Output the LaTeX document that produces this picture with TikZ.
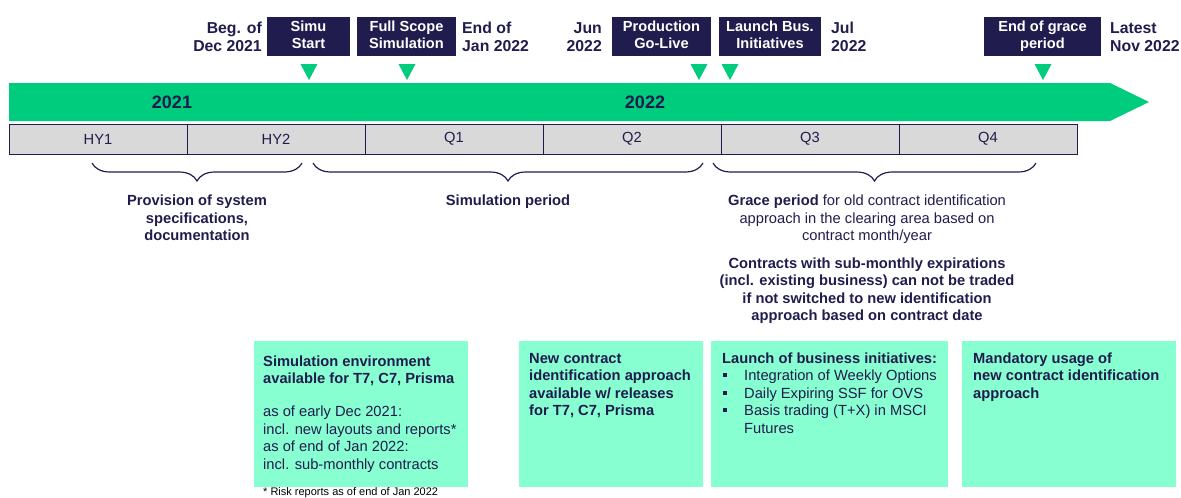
\documentclass[tikz,border=0pt]{standalone}
\usepackage{fontspec}
\setmainfont{Liberation Sans}
\usetikzlibrary{decorations.pathreplacing}
\definecolor{navy}{HTML}{201C4E}
\definecolor{bandgreen}{HTML}{00CC7E}
\definecolor{mint}{HTML}{88FFD1}
\definecolor{cellgray}{HTML}{D9D9D9}
\def\mainsize{\fontsize{14.7}{17.6}\selectfont}
\def\datesize{\fontsize{15.8}{18.5}\selectfont}
\def\marker(#1){\fill[bandgreen] (#1-8.5,64) -- (#1+8.5,64) -- (#1,80) -- cycle;}
\def\bul{\makebox[22pt][l]{\hspace{0.7pt}\rule[3.7pt]{4pt}{4pt}}}
\tikzset{
	milestone/.style={fill=navy, text=white, inner sep=0pt, minimum height=39pt, font=\bfseries\fontsize{14.6}{17.5}\selectfont},
	datelabel/.style={text=navy, inner sep=0pt, font=\bfseries\datesize},
	cell/.style={draw=navy, line width=1pt, fill=cellgray, text=navy, minimum width=178pt, minimum height=30pt, inner sep=0pt, font=\mainsize},
	infobox/.style={fill=mint, inner sep=0pt, minimum height=146pt, anchor=north west},
	boxtext/.style={text=navy, inner sep=0pt, anchor=base west, font=\mainsize},
	period/.style={draw=navy, line width=1.2pt, decorate, decoration={brace, mirror, amplitude=18pt}},
	note/.style={text=navy, inner sep=0pt, anchor=base, font=\bfseries\mainsize},
}

\begin{document}
\begin{tikzpicture}[x=1pt, y=-1pt]
		%%%%% START %%%%%
		\useasboundingbox (0,0) rectangle (1181,498);
		
		% timeline band
		\fill[bandgreen] (9,83) -- (1110,83) -- (1149,102) -- (1110,121) -- (9,121) -- cycle;
		\node[text=navy, font=\bfseries\fontsize{18}{20}\selectfont] (y2021) at (172,102) {2021};
		\node[text=navy, font=\bfseries\fontsize{18}{20}\selectfont] (y2022) at (645,102) {2022};
		
		% halves and quarters
		\node[cell] (hy1) at (98,139) {HY1};
		\node[cell] (hy2) at (276,139) {HY2};
		\node[cell] (q1) at (454,139) {Q1};
		\node[cell] (q2) at (632,139) {Q2};
		\node[cell] (q3) at (810,139) {Q3};
		\node[cell] (q4) at (988,139) {Q4};
		
		% milestones
		\node[milestone, minimum width=83pt] (simu) at (308.5,36.5) {\begin{tabular}{@{}c@{}}Simu\\Start\end{tabular}};
		\node[milestone, minimum width=99pt] (fullscope) at (406.5,36.5) {\begin{tabular}{@{}c@{}}Full Scope\\Simulation\end{tabular}};
		\node[milestone, minimum width=99pt] (golive) at (661.5,36.5) {\begin{tabular}{@{}c@{}}Production\\Go-Live\end{tabular}};
		\node[milestone, minimum width=102pt] (launch) at (770,36.5) {\begin{tabular}{@{}c@{}}Launch Bus.\\Initiatives\end{tabular}};
		\node[milestone, minimum width=117pt] (graceend) at (1042.5,36.5) {\begin{tabular}{@{}c@{}}End of grace\\period\end{tabular}};
		
		\node[datelabel, anchor=base east] (begdec) at (262,33) {\begin{tabular}[t]{@{}r@{}}Beg. of\\Dec 2021\end{tabular}};
		\node[datelabel, anchor=base west] (endjan) at (462,33) {\begin{tabular}[t]{@{}l@{}}End of\\Jan 2022\end{tabular}};
		\node[datelabel, anchor=base east] (jun) at (602,33) {\begin{tabular}[t]{@{}r@{}}Jun\\2022\end{tabular}};
		\node[datelabel, anchor=base west] (jul) at (831,33) {\begin{tabular}[t]{@{}l@{}}Jul\\2022\end{tabular}};
		\node[datelabel, anchor=base west] (latest) at (1110,33) {\begin{tabular}[t]{@{}l@{}}Latest\\Nov 2022\end{tabular}};
		
		\marker(309)
		\marker(407)
		\marker(699)
		\marker(730)
		\marker(1043)
		
		% periods
		\draw[period] (92,163) -- (302,163);
		\draw[period] (313,163) -- (703,163);
		\draw[period] (713,163) -- (1036,163);
		
		\node[note] (provision) at (197,205.7) {\begin{tabular}[t]{@{}c@{}}Provision of system\\specifications,\\documentation\end{tabular}};
		\node[note] (simperiod) at (508,205.7) {Simulation period};
		\node[note, font=\mainsize] (grace) at (867,205.7) {\begin{tabular}[t]{@{}c@{}}\textbf{Grace period} for old contract identification\\approach in the clearing area based on\\contract month/year\end{tabular}};
		\node[note] (submonthly) at (867,268) {\begin{tabular}[t]{@{}c@{}}Contracts with sub-monthly expirations\\(incl. existing business) can not be traded\\if not switched to new identification\\approach based on contract date\end{tabular}};
		
		% boxes
		\node[infobox, minimum width=214pt] (simenv) at (254,341) {};
		\node[infobox, minimum width=184pt] (newid) at (519,341) {};
		\node[infobox, minimum width=237pt] (business) at (711,341) {};
		\node[infobox, minimum width=214pt] (mandatory) at (962,341) {};
		
		\node[boxtext] (simenv-txt) at (263,366) {\begin{tabular}[t]{@{}l@{}}\textbf{Simulation environment}\\\textbf{available for T7, C7, Prisma}\\[15.4pt]as of early Dec 2021:\\incl. new layouts and reports*\\as of end of Jan 2022:\\incl. sub-monthly contracts\end{tabular}};
		\node[boxtext, font=\bfseries\mainsize] (newid-txt) at (529,363) {\begin{tabular}[t]{@{}l@{}}New contract\\identification approach\\available w/ releases\\for T7, C7, Prisma\end{tabular}};
		\node[boxtext] (business-txt) at (722,363) {\begin{tabular}[t]{@{}l@{}l@{}}\multicolumn{2}{@{}l@{}}{\textbf{Launch of business initiatives:}}\\\bul&Integration of Weekly Options\\\bul&Daily Expiring SSF for OVS\\\bul&Basis trading (T+X) in MSCI\\&Futures\end{tabular}};
		\node[boxtext, font=\bfseries\mainsize] (mandatory-txt) at (973,363) {\begin{tabular}[t]{@{}l@{}}Mandatory usage of\\new contract identification\\approach\end{tabular}};
		
		\node[inner sep=0pt, anchor=base west, font=\fontsize{11}{13}\selectfont] (footnote) at (263,495.3) {* Risk reports as of end of Jan 2022};
		
		%%%%% END %%%%%
	\end{tikzpicture}
\end{document}
